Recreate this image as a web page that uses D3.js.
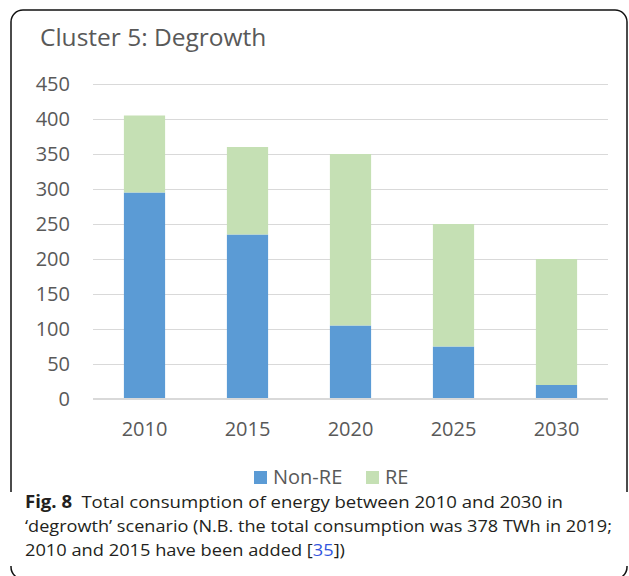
<!DOCTYPE html>
<html lang="en">
<head>
    <title>Cluster 5: Degrowth</title>
    <script src="https://d3js.org/d3.v7.min.js"></script>
    <style>
        body { margin: 0; background: #fff; }
        svg { display: block; }
    </style>
</head>
<body>
    <svg width="629" height="576" id="mainsvg"></svg>

    <script>
        // data
        const years = ['2010', '2015', '2020', '2025', '2030']
        const nonRE = [295, 235, 105, 75, 20]
        const re = [110, 125, 245, 175, 180]
        const yTicks = [0, 50, 100, 150, 200, 250, 300, 350, 400, 450]
        const seriesNames = ['Non-RE', 'RE']
        const seriesColors = ['#5B9BD5', '#C5E0B4']

        const titleText = 'Cluster 5: Degrowth'
        const captionLines = [
            [{ t: 'Fig. 8', b: true }, { t: '\u2002Total consumption of energy between 2010 and 2030 in' }],
            [{ t: '\u2018degrowth\u2019 scenario (N.B. the total consumption was 378 TWh in 2019;' }],
            [{ t: '2010 and 2015 have been added [' }, { t: '35', link: true }, { t: '])' }]
        ]

        const svg = d3.select('#mainsvg')
        const textColor = '#595959'
        const font = '"Open Sans", sans-serif'

        const margin = { top: 84, left: 93, right: 21, bottom: 177 }
        const width = +svg.attr('width')
        const innerWidth = width - margin.left - margin.right
        const innerHeight = 399 - margin.top

        // frame around the chart (runs past the bottom edge)
        svg.append('rect')
            .attr('x', 11).attr('y', 10)
            .attr('width', 616).attr('height', 569)
            .attr('rx', 12).attr('ry', 12)
            .attr('fill', 'none').attr('stroke', '#111').attr('stroke-width', 1.5)
        svg.append('rect')
            .attr('x', 0).attr('y', 492)
            .attr('width', width).attr('height', 74)
            .attr('fill', '#fff')

        svg.append('text')
            .text(titleText)
            .attr('x', 40).attr('y', 46)
            .attr('font-family', font).attr('font-size', 24.5)
            .attr('fill', textColor)

        const data = years.map((y, i) => ({ year: y, 'Non-RE': nonRE[i], 'RE': re[i] }))
        const stacked = d3.stack().keys(seriesNames)(data)

        const xScale = d3.scaleBand()
            .domain(years)
            .range([0, innerWidth])
            .paddingInner(0.6)
            .paddingOuter(0.3)

        const yScale = d3.scaleLinear()
            .domain([0, 450])
            .range([innerHeight, 0])

        const g = svg.append('g')
            .attr('transform', `translate(${margin.left}, ${margin.top})`)

        // gridlines
        const yAxis = d3.axisLeft(yScale)
            .tickValues(yTicks)
            .tickSize(-innerWidth)
            .tickPadding(23)
        const yAxisGroup = g.append('g').call(yAxis)
        yAxisGroup.select('.domain').remove()
        yAxisGroup.selectAll('.tick line')
            .attr('stroke', '#D9D9D9').attr('stroke-width', 1.2)
        yAxisGroup.selectAll('.tick text')
            .attr('font-family', font).attr('font-size', 20)
            .attr('fill', textColor)

        // bars
        stacked.forEach((s, si) => {
            g.append('g').selectAll('rect')
                .data(s)
                .join('rect')
                .attr('x', d => xScale(d.data.year))
                .attr('width', xScale.bandwidth())
                .attr('y', d => yScale(d[1]))
                .attr('height', d => yScale(d[0]) - yScale(d[1]))
                .attr('fill', seriesColors[si])
        })

        // zero line on top
        g.append('line')
            .attr('x1', 0).attr('x2', innerWidth)
            .attr('y1', yScale(0)).attr('y2', yScale(0))
            .attr('stroke', '#D9D9D9').attr('stroke-width', 2)

        const xAxis = d3.axisBottom(xScale).tickSize(0).tickPadding(23)
        const xAxisGroup = g.append('g').call(xAxis)
            .attr('transform', `translate(0, ${innerHeight})`)
        xAxisGroup.select('.domain').remove()
        xAxisGroup.selectAll('.tick text')
            .attr('font-family', font).attr('font-size', 20)
            .attr('fill', textColor)

        // legend
        const legendX = [254, 366]
        const legend = svg.append('g')
        seriesNames.forEach((name, i) => {
            legend.append('rect')
                .attr('x', legendX[i]).attr('y', 471)
                .attr('width', 13).attr('height', 13)
                .attr('fill', seriesColors[i])
            legend.append('text')
                .text(name)
                .attr('x', legendX[i] + 19).attr('y', 484)
                .attr('font-family', font).attr('font-size', 20)
                .attr('fill', textColor)
        })

        // caption
        const captionY = [508, 532, 556]
        const captionW = [538, 587, 320]
        captionLines.forEach((parts, i) => {
            const t = svg.append('text')
                .attr('x', 25).attr('y', captionY[i])
                .attr('font-family', font).attr('font-size', 17)
                .attr('fill', '#231f20')
            parts.forEach(p => {
                t.append('tspan')
                    .text(p.t)
                    .attr('font-weight', p.b ? 'bold' : null)
                    .attr('fill', p.link ? '#3355dd' : null)
            })
            t.attr('textLength', captionW[i]).attr('lengthAdjust', 'spacingAndGlyphs')
        })
    </script>
</body>
</html>
